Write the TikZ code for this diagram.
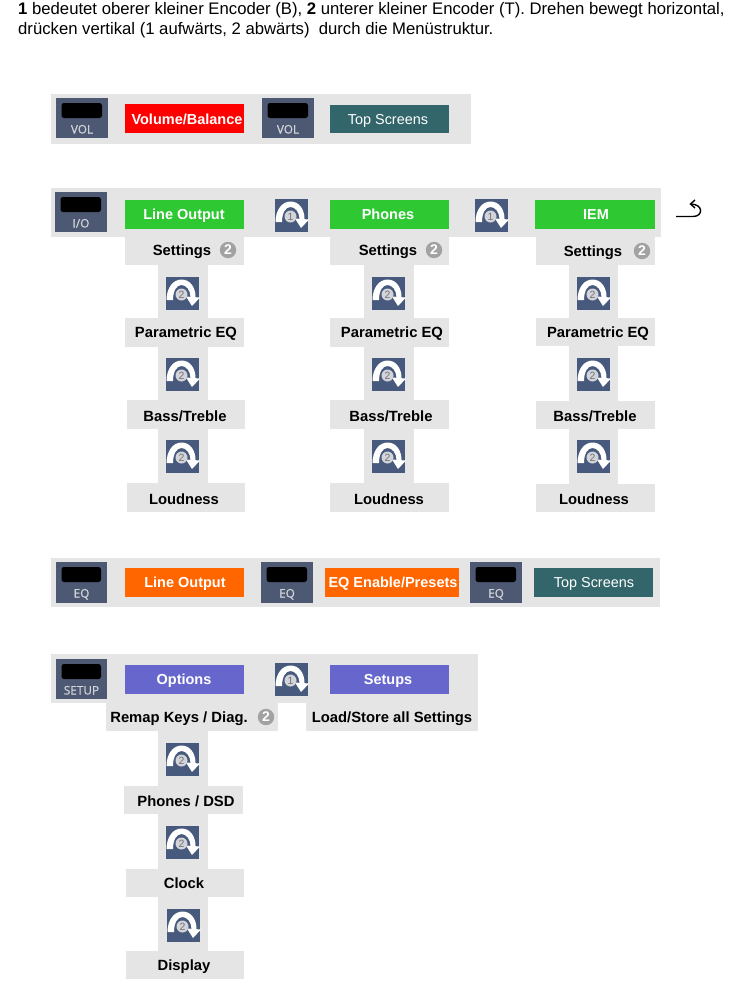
\documentclass[tikz,border=0pt]{standalone}
\usepackage{fontspec}
\setmainfont{Liberation Sans}
\newfontfamily\iconfont[FakeBold=0.6]{Open Sans}
\definecolor{barg}{HTML}{E5E5E5}
\definecolor{slate}{HTML}{4D5973}
\definecolor{encblue}{HTML}{47597C}
\definecolor{cred}{HTML}{FF0000}
\definecolor{cteal}{HTML}{33666A}
\definecolor{cgreen}{HTML}{2EC832}
\definecolor{corange}{HTML}{FF6600}
\definecolor{cpurple}{HTML}{6666CC}
\definecolor{badgeg}{HTML}{A2A2A2}
\definecolor{lab}{HTML}{D2D4DA}
\tikzset{
  x=1pt,y=-1pt,
  tb/.style={anchor=base,inner sep=0pt,font=\fontsize{14.8}{16}\selectfont\bfseries,text=black},
  wb/.style={anchor=base,inner sep=0pt,font=\fontsize{14.5}{16}\selectfont\bfseries,text=white},
  wn/.style={anchor=base,inner sep=0pt,font=\fontsize{14.4}{16}\selectfont,text=white},
  hd/.style={anchor=base west,inner sep=0pt,font=\fontsize{16.7}{18}\selectfont,text=black},
  iconlab/.style={anchor=base,inner sep=0pt,font=\iconfont\fontsize{11.8}{12}\selectfont,text=lab},
  encnum/.style={anchor=center,inner sep=0pt,font=\fontsize{10.5}{10}\selectfont,text=black!55},
  badgenum/.style={anchor=center,inner sep=0pt,font=\fontsize{14}{14}\selectfont\bfseries,text=white},
}
% gray region
\newcommand\gbox[4]{\fill[barg] (#1,#2) rectangle (#3,#4);}
% coloured button: x1,y1,x2,y2,colour
\newcommand\cbox[5]{\fill[#5] (#1,#2) rectangle (#3,#4);}
% hardware icon: name, x1, y1, label, x2, y2
\newcommand\hw[6]{%
  \fill[slate] (#2,#3) rectangle (#5,#6);
  \fill[black,rounded corners=2.5pt] ([xshift=5.5pt]#2,#3+5) rectangle ([xshift=-6pt]#5,#3+20);
  \node[iconlab] (#1) at ({(#2+#5)/2},#3+35.5) {#4};}
% encoder icon: name, x, y, number
\newcommand\enc[4]{%
  \begin{scope}[shift={(#2,#3)}]
    \fill[encblue] (0,0) rectangle (33,33);
    \fill[white] (0.5,23) .. controls (0.5,11) and (7,2.5) .. (15.5,2.5)
      .. controls (24,2.5) and (29.5,10) .. (29.5,20) -- (24.5,20)
      .. controls (24.5,13) and (20,8) .. (15.5,8)
      .. controls (10.5,8) and (7,14) .. (7,23) -- cycle;
    \fill[white] (20,19.5) -- (34,20.5) -- (26,29) -- cycle;
    \fill[lab] (15.5,17.5) circle[radius=6];
    \node[encnum] (#1) at (15.5,17.5) {#4};
  \end{scope}}
% "2" badge
\newcommand\badge[3]{%
  \fill[badgeg] (#2,#3) circle[radius=8.2];
  \node[badgenum] (#1) at (#2,#3) {2};}
\begin{document}
\begin{tikzpicture}
\useasboundingbox (0,0) rectangle (752,998);
\fill[white] (0,0) rectangle (752,998);

% header
\node[hd] (h1) at (18,15) {\textbf{1} bedeutet oberer kleiner Encoder (B), \textbf{2} unterer kleiner Encoder (T). Drehen bewegt horizontal,};
\node[hd] (h2) at (18,35) {drücken vertikal (1 aufwärts, 2 abwärts)\ \ durch die Menüstruktur.};

% row 1
\gbox{51}{94}{471}{144}
\hw{vola}{56}{98}{VOL}{108}{138}
\cbox{125}{104}{244}{133}{cred}
\node[wb] (volbal) at (187,124) {Volume/Balance};
\hw{volb}{262}{98}{VOL}{314}{138}
\cbox{330}{105}{449}{133}{cteal}
\node[wn] (top1) at (388,124) {Top Screens};

% row 2
\gbox{51}{188}{661}{237}
\hw{io}{55}{192}{I/O}{107}{232}
\cbox{125}{200}{244}{229}{cgreen}
\node[wb] (lo) at (184,219) {Line Output};
\enc{e1a}{275}{199}{1}
\cbox{330}{200}{449}{229}{cgreen}
\node[wb] (ph) at (388,219) {Phones};
\enc{e1b}{475}{199}{1}
\cbox{535}{200}{655}{229}{cgreen}
\node[wb] (iem) at (596,219) {IEM};
% return arrow
\coordinate (ra) at (676,216.5);
\coordinate (rb) at (693,216.5);
\coordinate (rc) at (690.5,204);
\draw[line width=1.4pt,black] (ra) -- (rb) .. controls (703.5,216.5) and (703.5,204) .. (rc);
\draw[line width=1.4pt,black,line join=miter] (695,200) -- (rc) -- (695,208);

% column 1
\gbox{158}{265}{208}{483}
\gbox{125}{237}{244}{265}
\gbox{125}{318}{244}{347}
\gbox{127}{400}{245}{429}
\gbox{127}{483}{245}{512}
\node[tb] (s1) at (182,255) {Settings};
\badge{b1}{228}{250}
\enc{e2a}{166}{277}{2}
\node[tb] (p1) at (186,337) {Parametric EQ};
\enc{e2b}{166}{358}{2}
\node[tb] (t1) at (185,421) {Bass/Treble};
\enc{e2c}{166}{440}{2}
\node[tb] (l1) at (184,504) {Loudness};

% column 2
\gbox{364}{265}{414}{483}
\gbox{330}{237}{449}{265}
\gbox{330}{318}{449}{347}
\gbox{330}{400}{449}{429}
\gbox{330}{483}{449}{512}
\node[tb] (s2) at (388,255) {Settings};
\badge{b2}{434}{250}
\enc{e3a}{372}{277}{2}
\node[tb] (p2) at (392,337) {Parametric EQ};
\enc{e3b}{372}{358}{2}
\node[tb] (t2) at (391,421) {Bass/Treble};
\enc{e3c}{372}{440}{2}
\node[tb] (l2) at (389,504) {Loudness};

% column 3
\gbox{569}{265}{618}{484}
\gbox{536}{237}{655}{265}
\gbox{536}{318}{655}{346}
\gbox{536}{401}{655}{429}
\gbox{536}{484}{655}{512}
\node[tb] (s3) at (593,256) {Settings};
\badge{b3}{642}{251}
\enc{e4a}{577}{277}{2}
\node[tb] (p3) at (598,337) {Parametric EQ};
\enc{e4b}{577}{358}{2}
\node[tb] (t3) at (595,421) {Bass/Treble};
\enc{e4c}{577}{440}{2}
\node[tb] (l3) at (594,504) {Loudness};

% row 3
\gbox{51}{558}{660}{607}
\hw{eqa}{56}{562}{EQ}{107}{603}
\cbox{125}{568}{244}{597}{corange}
\node[wb] (lo2) at (185,587) {Line Output};
\hw{eqb}{261}{562}{EQ}{313}{603}
\cbox{325}{568}{459}{597}{corange}
\node[wb] (eqe) at (393,587) {EQ Enable/Presets};
\hw{eqc}{470}{562}{EQ}{522}{603}
\cbox{534}{568}{653}{597}{cteal}
\node[wn] (top2) at (594,587) {Top Screens};

% row 4
\gbox{51}{654}{478}{703}
\hw{setup}{56}{659}{SETUP}{107}{699}
\cbox{125}{665}{244}{694}{cpurple}
\node[wb] (opt) at (184,684) {Options};
\enc{e5}{275}{663}{1}
\cbox{330}{665}{449}{694}{cpurple}
\node[wb] (set) at (388,684) {Setups};
\gbox{106}{703}{278}{731}
\gbox{306}{703}{478}{731}
\node[tb] (rk) at (179,722) {Remap Keys / Diag.};
\badge{b4}{266}{717}
\node[tb] (ls) at (392,722) {Load/Store all Settings};

% options column
\gbox{158}{731}{208}{951}
\gbox{124}{786}{243}{814}
\gbox{126}{869}{244}{897}
\gbox{126}{951}{244}{979}
\enc{e6a}{166}{743}{2}
\node[tb] (pd) at (186,806) {Phones / DSD};
\enc{e6b}{166}{826}{2}
\node[tb] (cl) at (184,888) {Clock};
\enc{e6c}{167}{909}{2}
\node[tb] (di) at (184,970) {Display};
\end{tikzpicture}
\end{document}
